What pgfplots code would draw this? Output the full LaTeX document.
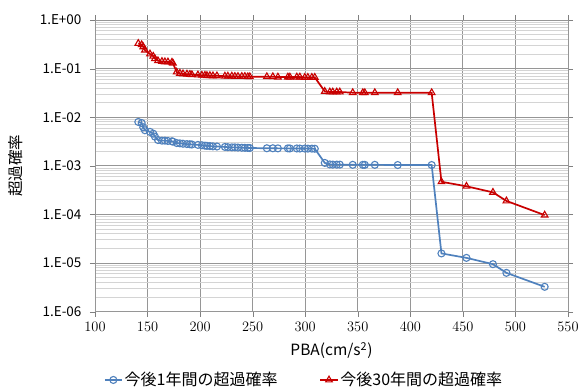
\documentclass[border=0pt]{standalone}
\usepackage{fontspec}
\setmainfont{Noto Sans CJK JP}
\usepackage{pgfplots}
\usepackage{pgfplotstable}
\pgfplotsset{compat=1.18}

\definecolor{serblue}{RGB}{79,129,189}
\definecolor{serred}{RGB}{200,0,0}
\definecolor{gridmajor}{RGB}{150,150,150}
\definecolor{gridminor}{RGB}{212,212,212}

% PBA [cm/s^2] vs. exceedance probability (1 year, 30 years)
\pgfplotstableread{
x      p1        p30
141.2  8.0e-3    0.33
144.4  7.6e-3    0.31
145.9  6.2e-3    0.28
147.5  5.4e-3    0.24
152.3  5.0e-3    0.20
155.4  4.6e-3    0.18
157.0  4.0e-3    0.16
159.9  3.4e-3    0.145
163.7  3.3e-3    0.140
166.5  3.3e-3    0.138
169.4  3.25e-3   0.137
173.2  3.2e-3    0.135
174.1  3.15e-3   0.130
177.7  2.95e-3   0.085
180.8  2.9e-3    0.080
183.7  2.85e-3   0.078
187.5  2.8e-3    0.077
190.3  2.78e-3   0.076
192.2  2.75e-3   0.075
197.9  2.7e-3    0.074
201.7  2.65e-3   0.073
204.6  2.6e-3    0.073
206.5  2.58e-3   0.072
209.3  2.55e-3   0.072
212.2  2.52e-3   0.071
216.0  2.5e-3    0.071
223.6  2.45e-3   0.070
226.4  2.42e-3   0.070
230.2  2.4e-3    0.070
233.1  2.4e-3    0.069
236.0  2.38e-3   0.069
239.7  2.36e-3   0.069
242.6  2.35e-3   0.069
245.4  2.34e-3   0.068
247.3  2.33e-3   0.068
263.5  2.3e-3    0.068
269.2  2.3e-3    0.068
274.0  2.29e-3   0.067
283.5  2.29e-3   0.067
285.4  2.28e-3   0.067
292.0  2.28e-3   0.067
294.9  2.27e-3   0.067
299.6  2.27e-3   0.066
302.5  2.26e-3   0.066
306.3  2.26e-3   0.066
309.1  2.25e-3   0.066
318.6  1.15e-3   0.034
323.4  1.07e-3   0.033
326.2  1.06e-3   0.033
330.0  1.06e-3   0.033
332.9  1.06e-3   0.033
345.2  1.05e-3   0.032
354.8  1.05e-3   0.032
356.7  1.05e-3   0.032
366.2  1.05e-3   0.032
388.0  1.04e-3   0.032
420.3  1.04e-3   0.032
429.6  1.58e-5   4.7e-4
453.4  1.28e-5   3.8e-4
478.6  9.5e-6    2.85e-4
491.4  6.3e-6    1.9e-4
527.8  3.25e-6   9.7e-5
}\pbatable

\begin{document}
\begin{tikzpicture}
\begin{axis}[
  at={(0pt,0pt)}, anchor=south west,
  scale only axis,
  width=473pt, height=291.7pt,
  xmin=100, xmax=550,
  ymin=1e-6, ymax=1,
  ymode=log,
  xtick={100,150,...,550},
  ytick={1e-6,1e-5,1e-4,1e-3,1e-2,1e-1,1},
  yticklabels={1.E-06,1.E-05,1.E-04,1.E-03,1.E-02,1.E-01,1.E+00},
  grid=both,
  major grid style={color=gridmajor, line width=0.9pt},
  minor grid style={color=gridminor, line width=0.9pt},
  tick align=outside,
  major tick length=5pt,
  minor tick length=0pt,
  axis line style={color=gridmajor, line width=0.9pt},
  tick label style={font=\fontsize{13.5}{15}\selectfont, black},
  yticklabel style={xshift=-5pt},
  xticklabel style={yshift=-2pt},
  label style={font=\fontsize{15.5}{18}\selectfont},
  xlabel={PBA(cm/s\textsuperscript{2})},
  ylabel={超過確率},
  xlabel style={yshift=-4pt},
  ylabel style={yshift=10pt},
  legend columns=2,
  legend style={
    at={(0.442,-0.234)}, anchor=center, draw=none,
    font=\fontsize{16}{18}\selectfont,
    /tikz/every even column/.append style={column sep=40pt},
  },
  legend cell align=left,
  every axis plot/.append style={line width=1.7pt},
]
\addplot[serblue, mark=o, mark size=3.5pt,
  mark options={fill=white, line width=1.1pt, solid}]
  table[x=x, y=p1] {\pbatable};
\addlegendentry{今後1年間の超過確率}
\addplot[serred, mark=triangle, mark size=3.8pt,
  mark options={fill=white, line width=1.1pt, solid}]
  table[x=x, y=p30] {\pbatable};
\addlegendentry{今後30年間の超過確率}
\end{axis}
\pgfresetboundingbox
\path[use as bounding box] (-95pt,-75.3pt) rectangle (486pt,311.7pt);
\end{tikzpicture}
\end{document}
